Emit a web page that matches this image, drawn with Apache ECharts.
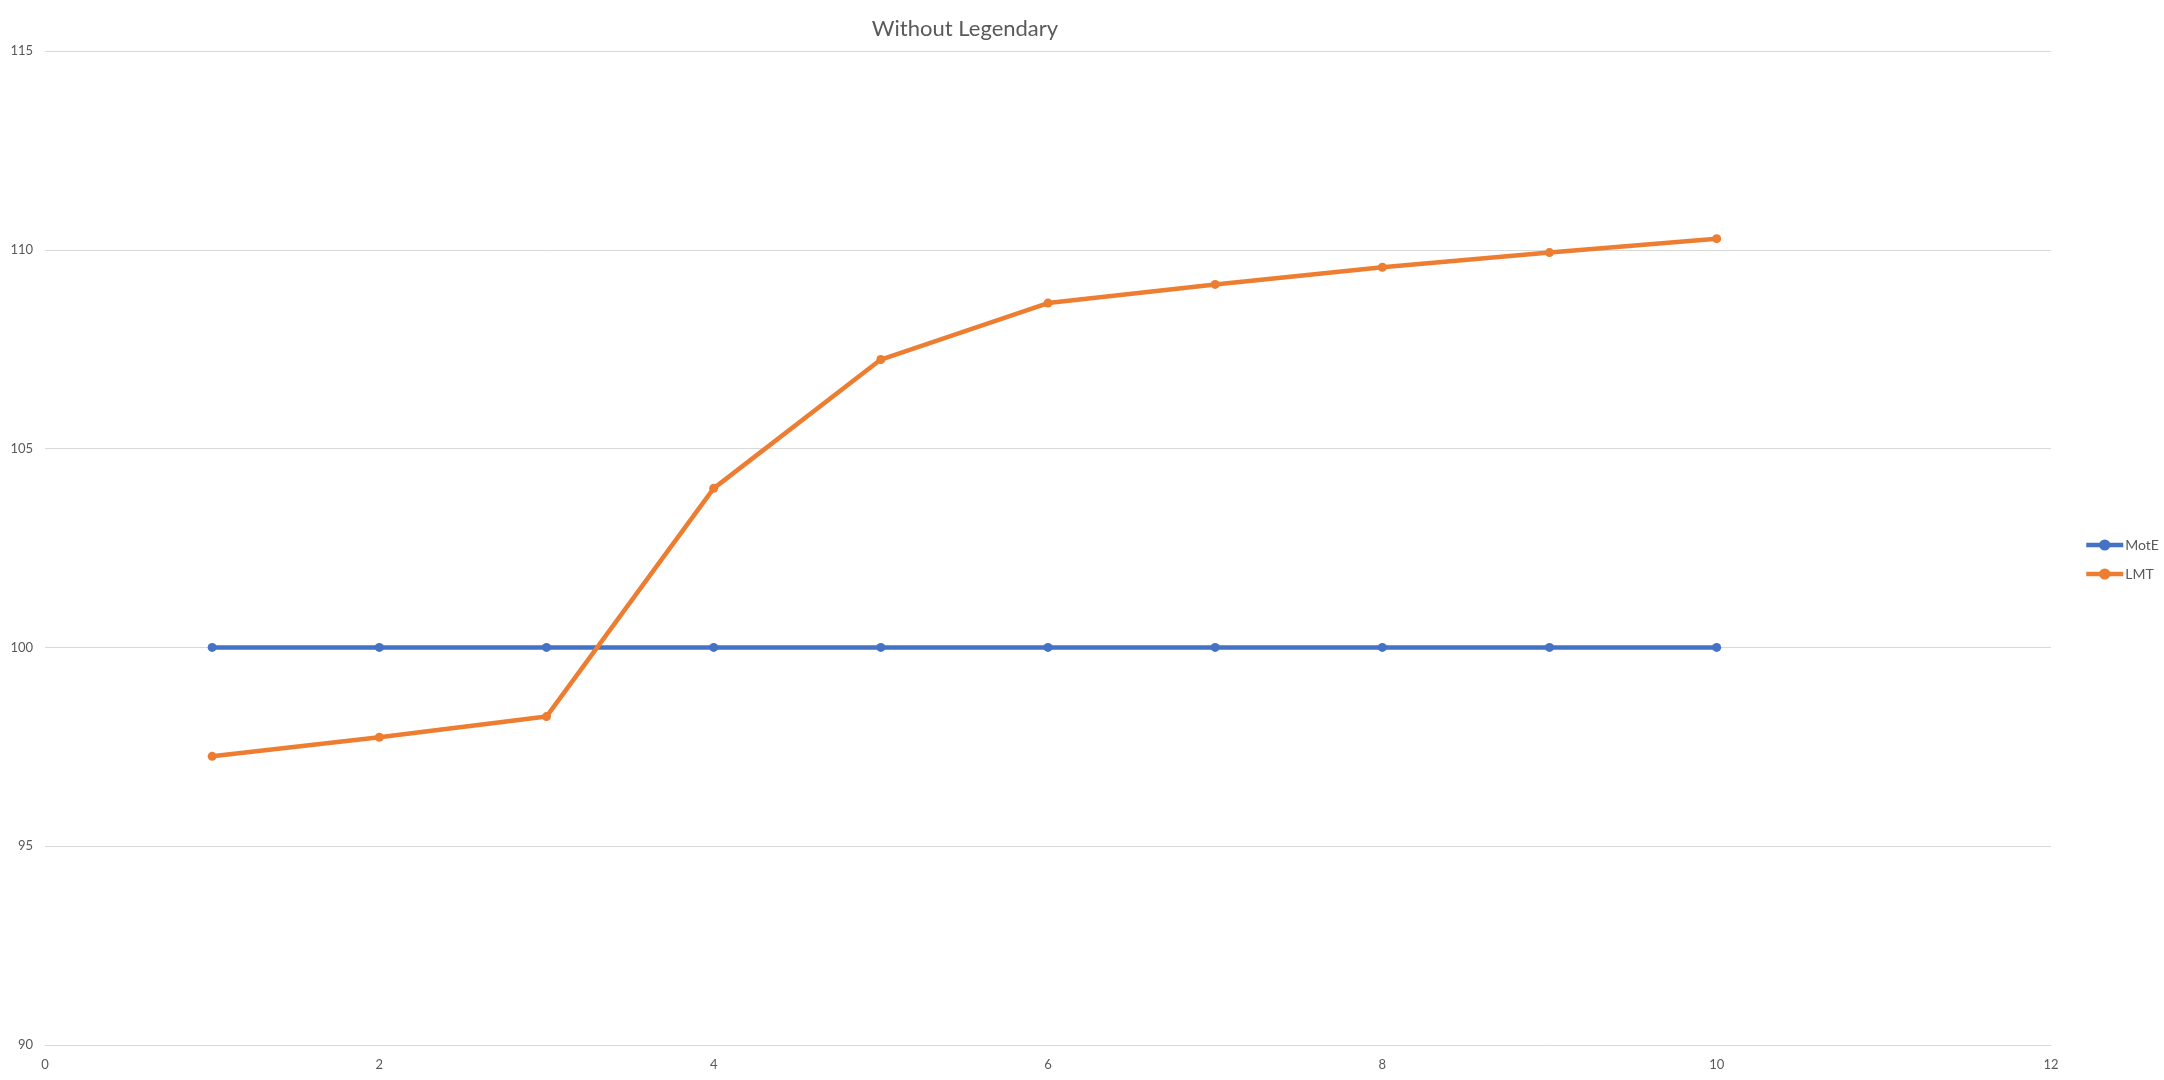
<!DOCTYPE html>
<html>
<head>
<meta charset="utf-8">
<script src="https://cdn.jsdelivr.net/npm/echarts@6/dist/echarts.min.js"></script>
<style>
html,body{margin:0;padding:0;background:#fff;}
#chart{width:2164px;height:1080px;}
</style>
</head>
<body>
<div id="chart"></div>
<script>
const chartTitle = 'Without Legendary';
const seriesNames = ['MotE', 'LMT'];
const xValues = [1, 2, 3, 4, 5, 6, 7, 8, 9, 10];
const moteValues = [100, 100, 100, 100, 100, 100, 100, 100, 100, 100];
const lmtValues = [97.26, 97.74, 98.26, 104.0, 107.24, 108.66, 109.13, 109.56, 109.93, 110.28];

const font = 'Lato, "Open Sans", sans-serif';
const toPairs = (xs, ys) => xs.map((x, i) => [x, ys[i]]);

const chart = echarts.init(document.getElementById('chart'), null, {renderer: 'canvas'});
chart.setOption({
  backgroundColor: '#ffffff',
  animation: false,
  title: {
    text: chartTitle,
    left: 960,
    textAlign: 'center',
    top: 13,
    textStyle: {fontFamily: font, fontSize: 22, fontWeight: 'normal', color: '#595959'}
  },
  legend: {
    orient: 'vertical',
    left: 2079,
    top: 533,
    itemWidth: 37,
    itemHeight: 14,
    itemGap: 15,
    lineStyle: {width: 4.5},
    textStyle: {fontFamily: font, fontSize: 14, color: '#595959', padding: [0, 0, 0, -3]},
    data: seriesNames
  },
  grid: {left: 45, right: 113, top: 51, bottom: 35, containLabel: false},
  xAxis: {
    type: 'value',
    min: 0, max: 12, interval: 2,
    axisLine: {show: true, lineStyle: {color: '#d9d9d9', width: 1}},
    axisTick: {show: false},
    splitLine: {show: false},
    axisLabel: {fontFamily: font, fontSize: 13, color: '#595959', margin: 13}
  },
  yAxis: {
    type: 'value',
    min: 90, max: 115, interval: 5,
    axisLine: {show: false},
    axisTick: {show: false},
    splitLine: {show: true, lineStyle: {color: '#d9d9d9', width: 1}},
    axisLabel: {fontFamily: font, fontSize: 13, color: '#595959', margin: 12}
  },
  series: [
    {
      name: seriesNames[0], type: 'line', data: toPairs(xValues, moteValues),
      color: '#4472C4', symbol: 'circle', symbolSize: 9,
      lineStyle: {width: 4.5, color: '#4472C4'},
      itemStyle: {color: '#4472C4'}
    },
    {
      name: seriesNames[1], type: 'line', data: toPairs(xValues, lmtValues),
      color: '#ED7D31', symbol: 'circle', symbolSize: 9,
      lineStyle: {width: 4.5, color: '#ED7D31'},
      itemStyle: {color: '#ED7D31'}
    }
  ]
});
</script>
</body>
</html>
